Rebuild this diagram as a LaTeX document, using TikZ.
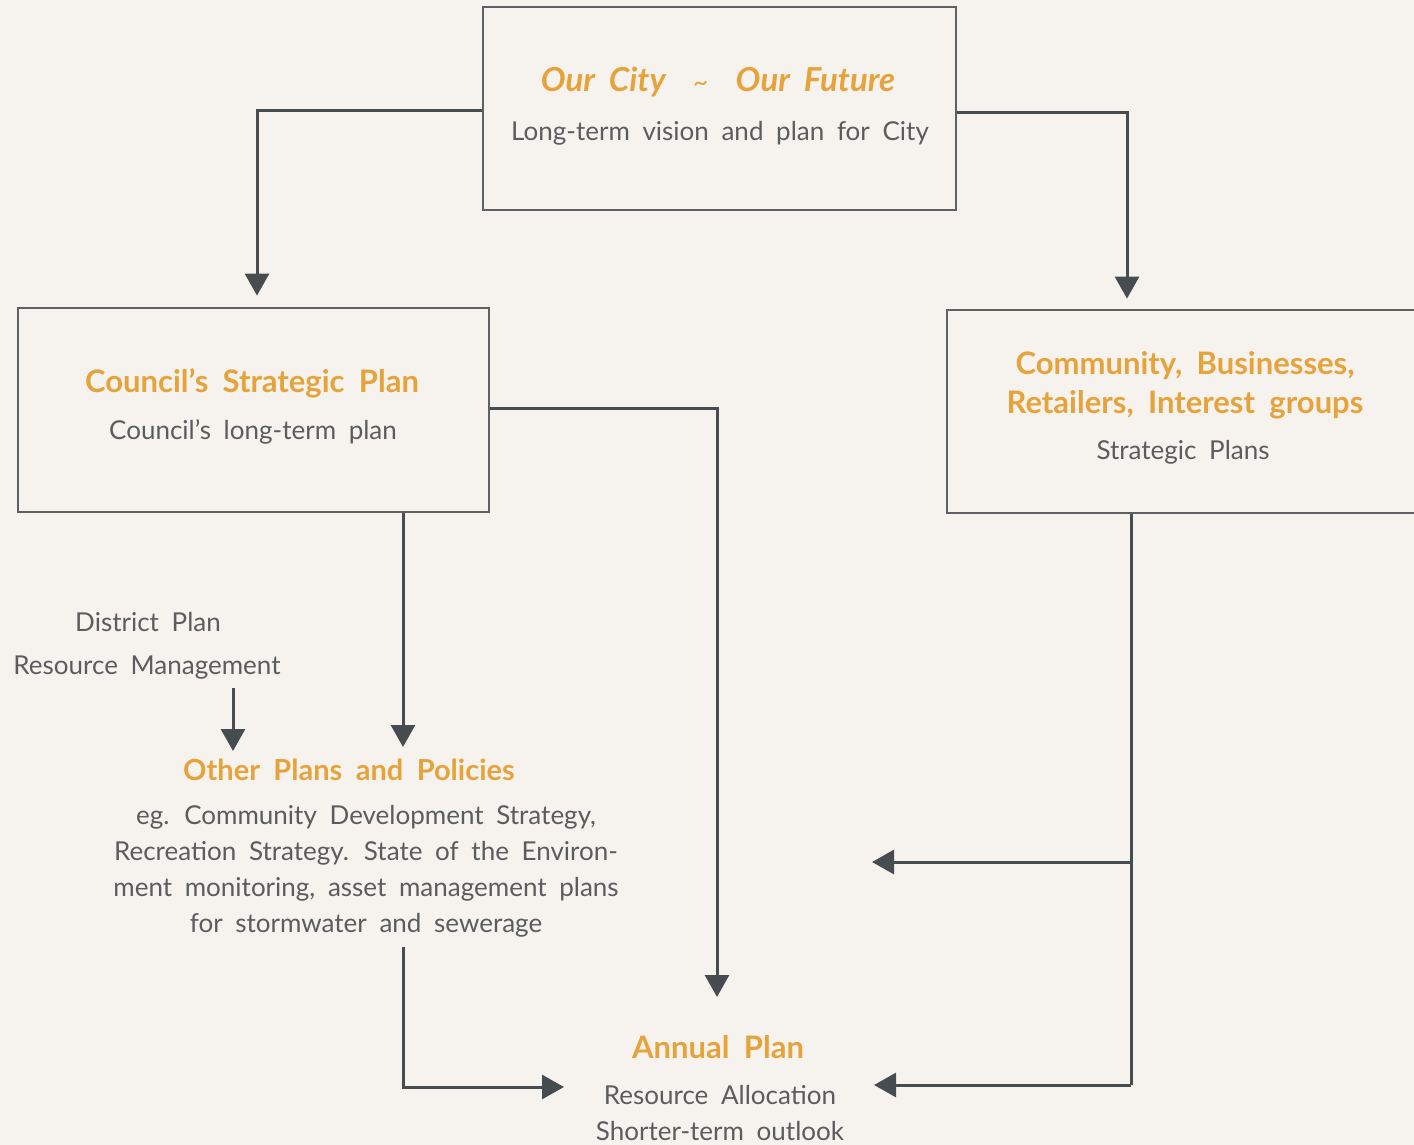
\documentclass[tikz,border=0pt]{standalone}
\usepackage{fontspec}
\setmainfont[WordSpace=1.9]{Lato}
\usetikzlibrary{arrows.meta}
\definecolor{bg}{HTML}{F6F3EF}
\definecolor{orng}{HTML}{E6A33C}
\definecolor{txt}{HTML}{5A5C5E}
\definecolor{ln}{HTML}{474C51}
\definecolor{bx}{HTML}{5E6164}
\begin{document}
\begin{tikzpicture}[x=0.5pt,y=-0.5pt,
  box/.style={draw=bx, line width=1.4pt, inner sep=0pt},
  ttl/.style={text=orng, font=\bfseries\fontsize{15.5}{19.5}\selectfont, align=center, inner sep=1pt},
  ttli/.style={text=orng, font=\bfseries\itshape\fontsize{16.5}{20}\selectfont, inner sep=1pt},
  body/.style={text=txt, font=\fontsize{13}{18}\selectfont, align=center, inner sep=1pt},
  conn/.style={draw=ln, line width=1.5pt},
  arr/.style={conn, -{Triangle[length=11pt,width=12pt]}}
]
\fill[bg] (0,0) rectangle (1414,1145);
\useasboundingbox (0,0) rectangle (1414,1145);

% boxes
\node[box, minimum width=236.5pt, minimum height=101.5pt] (top) at (719.5,108.5) {};
\node[box, minimum width=235.5pt, minimum height=102pt] (csp) at (253.5,410) {};
\node[box, minimum width=239pt, minimum height=101.5pt] (comm) at (1186,411.5) {};

% texts
\node[ttli] (topT) at (718,82) {Our City\ \ \textmd{\fontsize{13}{14}\selectfont\raisebox{0pt}{\char`\~}}\ \ Our Future};
\node[body] (topB) at (720,133) {Long-term vision and plan for City};

\node[ttl] (cspT) at (252,383) {Council’s Strategic Plan};
\node[body] (cspB) at (253,432) {Council’s long-term plan};

\node[ttl] (commT) at (1185,385) {Community, Businesses,\\Retailers, Interest groups};
\node[body] (commB) at (1183,452) {Strategic Plans};

\node[body] (dp) at (148,622) {District Plan};
\node[body] (rm) at (147,668) {Resource Management};

\node[ttl, font=\bfseries\fontsize{14.5}{18}\selectfont] (opT) at (349,770) {Other Plans and Policies};
\node[body] (opB) at (366,871) {eg. Community Development Strategy,\\Recreation Strategy. State of the Environ-\\ment monitoring, asset management plans\\for stormwater and sewerage};

\node[ttl] (apT) at (718,1047) {Annual Plan};
\node[body] (apB) at (720,1113) {Resource Allocation\\Shorter-term outlook};

% coordinates
\coordinate (c1) at (257,111);
\coordinate (c2) at (1127,113);
\coordinate (c3) at (717,408);
\coordinate (t3) at (717,997);
\coordinate (t4) at (403,747);
\coordinate (s5) at (233,688);
\coordinate (t5) at (233,751);
\coordinate (c6) at (403,1087);
\coordinate (t6) at (564,1087);
\coordinate (c7) at (1131,862);
\coordinate (c8) at (1131,1085);
\coordinate (t7) at (872,862);
\coordinate (t8) at (874,1085);

% connectors
\draw[arr] (top.west |- c1) -| ([yshift=5.5pt]csp.north -| c1);
\draw[arr] (top.east |- c2) -| ([yshift=5pt]comm.north -| c2);
\draw[arr] (csp.east |- c3) -- (c3) -- (t3);
\draw[arr] (csp.south -| t4) -- (t4);
\draw[arr] (s5) -- (t5);
\draw[arr] ([yshift=-4pt]opB.south -| c6) -- (c6) -- (t6);
\draw[conn] (comm.south -| c7) -- (c8);
\draw[arr] (c7) -- (t7);
\draw[arr] (c8) -- (t8);
\end{tikzpicture}
\end{document}
